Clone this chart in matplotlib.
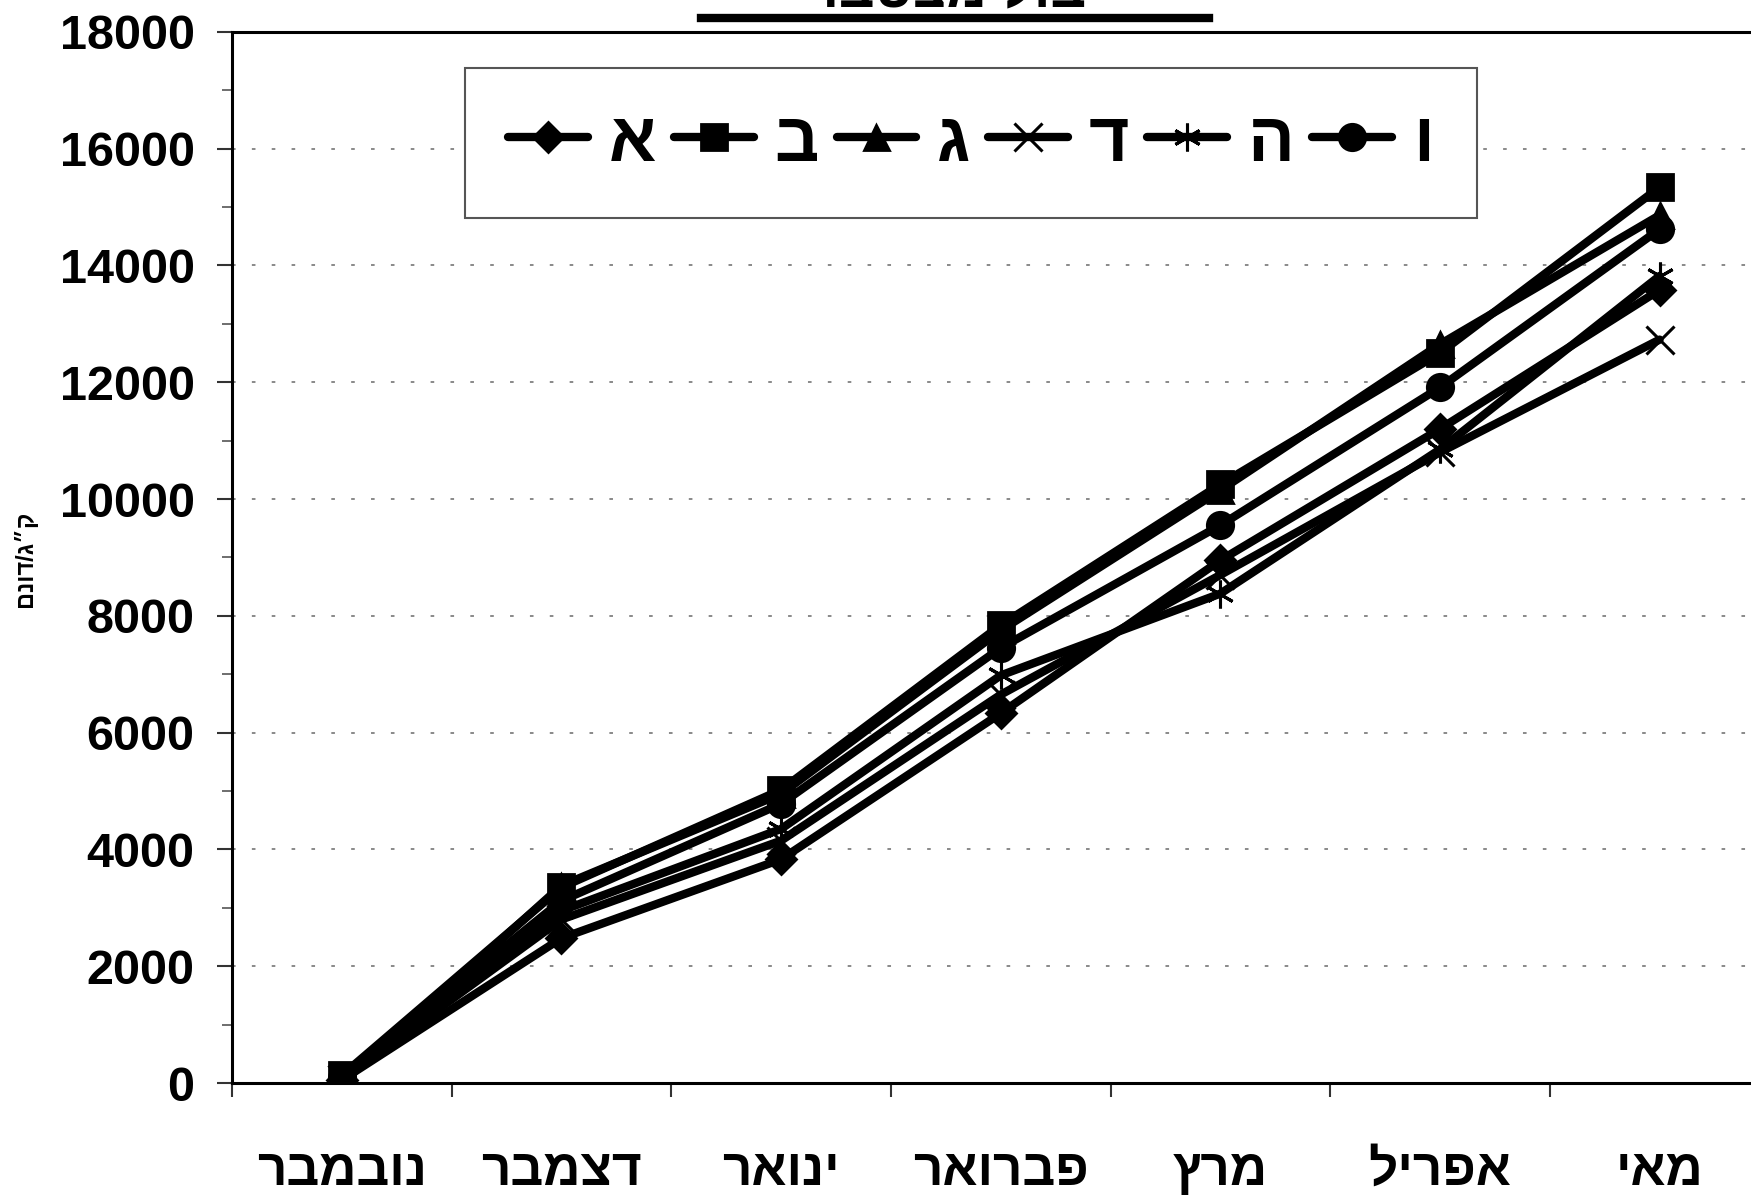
import matplotlib
matplotlib.use("Agg")
import matplotlib.pyplot as plt
from matplotlib.lines import Line2D
import numpy as np

plt.rcParams['font.family'] = ['Liberation Sans', 'DejaVu Sans']
plt.rcParams['font.weight'] = 'bold'


def heb(s):
    # matplotlib has no bidi support, so reverse Hebrew for display
    return s[::-1]


months = ["נובמבר", "דצמבר", "ינואר", "פברואר", "מרץ", "אפריל", "מאי"]
series_names = ["א", "ב", "ג", "ד", "ה", "ו"]

vals_a = [50, 2480, 3830, 6330, 8950, 11200, 13580]
vals_b = [130, 3350, 5020, 7840, 10250, 12500, 15340]
vals_c = [0, 3380, 4950, 7750, 10150, 12650, 14860]
vals_d = [60, 2800, 4150, 6650, 8700, 10800, 12730]
vals_e = [60, 2950, 4350, 6980, 8380, 10850, 13820]
vals_f = [80, 3120, 4780, 7450, 9550, 11910, 14620]

title = "יבול מצטבר"
ylabel = "ק״ג/דונם"

fig = plt.figure(figsize=(17.51, 12.02), dpi=100)
ax = fig.add_axes([0.1325, 0.099, 0.878, 0.8745])

x = np.arange(len(months))
styles = [
    (vals_a, 'D', 15, 2),
    (vals_b, 's', 19, 2),
    (vals_c, '^', 18, 2),
    (vals_d, 'x', 20, 2.2),
    (vals_e, (6, 2, 0), 20, 2.2),
    (vals_f, 'o', 19, 2),
]
for (vals, mk, ms, mew), name in zip(styles, series_names):
    ax.plot(x, vals, color='black', lw=6, marker=mk, ms=ms,
            markerfacecolor='black', markeredgecolor='black', mew=mew,
            label=name, solid_joinstyle='round', solid_capstyle='round')

ax.set_xlim(-0.5, 6.5)
ax.set_ylim(0, 18000)

ax.set_yticks(np.arange(0, 18001, 2000))
ax.set_yticks(np.arange(0, 18001, 1000), minor=True)
ax.tick_params(axis='y', which='major', direction='out', length=11, width=1.5,
               labelsize=35, pad=16, color='#333333')
ax.tick_params(axis='y', which='minor', direction='out', length=7, width=1.2,
               color='#555555')

ax.set_xticks(x)
ax.set_xticklabels([heb(m) for m in months])
ax.set_xticks(np.arange(-0.5, 7, 1), minor=True)
ax.tick_params(axis='x', which='major', length=0, labelsize=37, pad=46)
ax.tick_params(axis='x', which='minor', direction='out', length=10, width=1.5,
               color='#333333')
for lab in ax.get_xticklabels() + ax.get_yticklabels():
    lab.set_fontweight('bold')

ax.yaxis.grid(True, which='major', color='#808080', lw=1.3,
              linestyle=(0, (2, 9)))
ax.set_axisbelow(True)

for sp in ['left', 'bottom', 'top']:
    ax.spines[sp].set_linewidth(2.2)
    ax.spines[sp].set_color('black')
ax.spines['right'].set_visible(False)

leg = ax.legend(loc='center', ncol=6, mode='expand',
                bbox_to_anchor=(465 / 1751, 1 - 222 / 1202, 1012 / 1751, 158 / 1202),
                bbox_transform=fig.transFigure, fontsize=50, frameon=True,
                fancybox=False, borderpad=0.62, handlelength=1.15,
                handletextpad=0.3, columnspacing=0.5, markerscale=1.0,
                borderaxespad=0)
leg.get_frame().set_edgecolor('#555555')
leg.get_frame().set_linewidth(1.5)
leg.get_frame().set_alpha(1)
for t in leg.get_texts():
    t.set_fontweight('bold')

fig.text(25 / 1751, 0.535, heb(ylabel), rotation=90, fontsize=17,
         fontweight='bold', ha='center', va='center')

fig.text(955 / 1751, 1 - 6 / 1202, heb(title), fontsize=40,
         fontweight='bold', ha='center', va='baseline')
fig.add_artist(Line2D([701 / 1751, 1209 / 1751], [1 - 18 / 1202, 1 - 18 / 1202],
                      color='black', lw=6, transform=fig.transFigure))

fig.savefig("out.png", dpi=100)
